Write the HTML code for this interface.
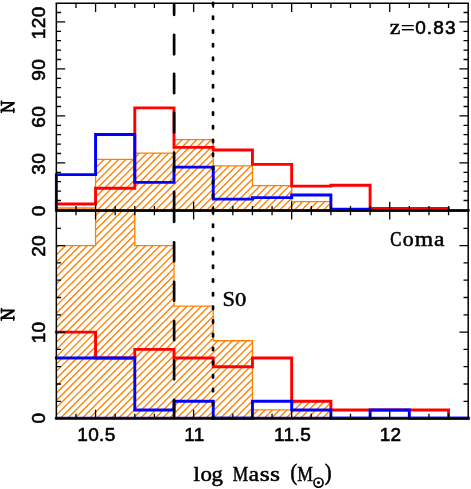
<!DOCTYPE html>
<html><head><meta charset="utf-8"><title>chart</title>
<style>
html,body{margin:0;padding:0;background:#fff;}
body{width:471px;height:489px;overflow:hidden;font-family:"Liberation Sans",sans-serif;}
svg{display:block;will-change:transform;}
</style></head><body>
<svg width="471" height="489" viewBox="0 0 471 489">
<defs>
<clipPath id="ct"><path d="M56.35,209.90 L56.35,208.00 L95.57,208.00 L95.57,159.30 L134.79,159.30 L134.79,153.10 L174.01,153.10 L174.01,139.60 L213.23,139.60 L213.23,165.90 L252.45,165.90 L252.45,185.70 L291.67,185.70 L291.67,201.60 L330.89,201.60 L330.89,209.90 Z"/></clipPath>
<clipPath id="cb"><path d="M56.35,418.30 L56.35,245.60 L95.57,245.60 L95.57,209.90 L134.79,209.90 L134.79,245.60 L174.01,245.60 L174.01,306.15 L213.23,306.15 L213.23,340.75 L252.45,340.75 L252.45,409.95 L291.67,409.95 L291.67,401.30 L330.89,401.30 L330.89,418.30 Z"/></clipPath>
</defs>
<rect x="0" y="0" width="471" height="489" fill="#fff"/>
<g clip-path="url(#ct)"><path d="M54.35,121.55L332.89,-156.99M54.35,128.85L332.89,-149.69M54.35,136.15L332.89,-142.39M54.35,143.45L332.89,-135.09M54.35,150.75L332.89,-127.79M54.35,158.05L332.89,-120.49M54.35,165.35L332.89,-113.19M54.35,172.65L332.89,-105.89M54.35,179.95L332.89,-98.59M54.35,187.25L332.89,-91.29M54.35,194.55L332.89,-83.99M54.35,201.85L332.89,-76.69M54.35,209.15L332.89,-69.39M54.35,216.45L332.89,-62.09M54.35,223.75L332.89,-54.79M54.35,231.05L332.89,-47.49M54.35,238.35L332.89,-40.19M54.35,245.65L332.89,-32.89M54.35,252.95L332.89,-25.59M54.35,260.25L332.89,-18.29M54.35,267.55L332.89,-10.99M54.35,274.85L332.89,-3.69M54.35,282.15L332.89,3.61M54.35,289.45L332.89,10.91M54.35,296.75L332.89,18.21M54.35,304.05L332.89,25.51M54.35,311.35L332.89,32.81M54.35,318.65L332.89,40.11M54.35,325.95L332.89,47.41M54.35,333.25L332.89,54.71M54.35,340.55L332.89,62.01M54.35,347.85L332.89,69.31M54.35,355.15L332.89,76.61M54.35,362.45L332.89,83.91M54.35,369.75L332.89,91.21M54.35,377.05L332.89,98.51M54.35,384.35L332.89,105.81M54.35,391.65L332.89,113.11M54.35,398.95L332.89,120.41M54.35,406.25L332.89,127.71M54.35,413.55L332.89,135.01M54.35,420.85L332.89,142.31M54.35,428.15L332.89,149.61M54.35,435.45L332.89,156.91M54.35,442.75L332.89,164.21M54.35,450.05L332.89,171.51M54.35,457.35L332.89,178.81M54.35,464.65L332.89,186.11M54.35,471.95L332.89,193.41M54.35,479.25L332.89,200.71M54.35,486.55L332.89,208.01M54.35,493.85L332.89,215.31" stroke="#ff8000" stroke-width="1.35" fill="none"/></g>
<g clip-path="url(#cb)"><path d="M54.35,198.64L332.89,-79.90M54.35,205.92L332.89,-72.62M54.35,213.19L332.89,-65.35M54.35,220.47L332.89,-58.07M54.35,227.75L332.89,-50.79M54.35,235.03L332.89,-43.51M54.35,242.31L332.89,-36.23M54.35,249.58L332.89,-28.96M54.35,256.86L332.89,-21.68M54.35,264.14L332.89,-14.40M54.35,271.42L332.89,-7.12M54.35,278.70L332.89,0.16M54.35,285.97L332.89,7.43M54.35,293.25L332.89,14.71M54.35,300.53L332.89,21.99M54.35,307.81L332.89,29.27M54.35,315.09L332.89,36.55M54.35,322.36L332.89,43.82M54.35,329.64L332.89,51.10M54.35,336.92L332.89,58.38M54.35,344.20L332.89,65.66M54.35,351.48L332.89,72.94M54.35,358.75L332.89,80.21M54.35,366.03L332.89,87.49M54.35,373.31L332.89,94.77M54.35,380.59L332.89,102.05M54.35,387.87L332.89,109.33M54.35,395.14L332.89,116.60M54.35,402.42L332.89,123.88M54.35,409.70L332.89,131.16M54.35,416.98L332.89,138.44M54.35,424.26L332.89,145.72M54.35,431.53L332.89,152.99M54.35,438.81L332.89,160.27M54.35,446.09L332.89,167.55M54.35,453.37L332.89,174.83M54.35,460.65L332.89,182.11M54.35,467.92L332.89,189.38M54.35,475.20L332.89,196.66M54.35,482.48L332.89,203.94M54.35,489.76L332.89,211.22M54.35,497.04L332.89,218.50M54.35,504.31L332.89,225.77M54.35,511.59L332.89,233.05M54.35,518.87L332.89,240.33M54.35,526.15L332.89,247.61M54.35,533.43L332.89,254.89M54.35,540.70L332.89,262.16M54.35,547.98L332.89,269.44M54.35,555.26L332.89,276.72M54.35,562.54L332.89,284.00M54.35,569.82L332.89,291.28M54.35,577.09L332.89,298.55M54.35,584.37L332.89,305.83M54.35,591.65L332.89,313.11M54.35,598.93L332.89,320.39M54.35,606.21L332.89,327.67M54.35,613.48L332.89,334.94M54.35,620.76L332.89,342.22M54.35,628.04L332.89,349.50M54.35,635.32L332.89,356.78M54.35,642.60L332.89,364.06M54.35,649.87L332.89,371.33M54.35,657.15L332.89,378.61M54.35,664.43L332.89,385.89M54.35,671.71L332.89,393.17M54.35,678.99L332.89,400.45M54.35,686.26L332.89,407.72M54.35,693.54L332.89,415.00M54.35,700.82L332.89,422.28M54.35,708.10L332.89,429.56" stroke="#ff8000" stroke-width="1.35" fill="none"/></g>
<path d="M56.35,208.00 L95.57,208.00 L95.57,159.30 L134.79,159.30 L134.79,153.10 L174.01,153.10 L174.01,139.60 L213.23,139.60 L213.23,165.90 L252.45,165.90 L252.45,185.70 L291.67,185.70 L291.67,201.60 L330.89,201.60 L330.89,209.90" stroke="#ff8000" stroke-width="1.3" fill="none"/>
<path d="M56.35,245.60 L95.57,245.60 L95.57,209.90 M134.79,209.90 L134.79,245.60 L174.01,245.60 L174.01,306.15 L213.23,306.15 L213.23,340.75 L252.45,340.75 L252.45,409.95 L291.67,409.95 L291.67,401.30 L330.89,401.30 L330.89,418.30" stroke="#ff8000" stroke-width="1.3" fill="none"/>
<path d="M56.35,204.00 L95.57,204.00 L95.57,188.20 L134.79,188.20 L134.79,107.90 L174.01,107.90 L174.01,147.40 L213.23,147.40 L213.23,150.00 L252.45,150.00 L252.45,164.40 L291.67,164.40 L291.67,186.10 L330.89,186.10 L330.89,185.20 L370.11,185.20 L370.11,208.40 L409.33,208.40 L409.33,208.40 L448.55,208.40 L448.55,210.40" stroke="#ff0000" stroke-width="2.9" fill="none" stroke-linecap="square" stroke-linejoin="miter"/>
<path d="M468.20,210.40 L56.35,210.40 L56.35,174.60 L95.57,174.60 L95.57,134.50 L134.79,134.50 L134.79,182.40 L174.01,182.40 L174.01,167.10 L213.23,167.10 L213.23,199.10 L252.45,199.10 L252.45,197.60 L291.67,197.60 L291.67,195.00 L330.89,195.00 L330.89,209.10 L370.11,209.10 L370.11,210.40 L468.20,210.40" stroke="#0000ff" stroke-width="2.9" fill="none" stroke-linecap="square" stroke-linejoin="miter"/>
<path d="M56.35,332.10 L95.57,332.10 L95.57,358.05 L134.79,358.05 L134.79,349.40 L174.01,349.40 L174.01,358.05 L213.23,358.05 L213.23,366.70 L252.45,366.70 L252.45,358.05 L291.67,358.05 L291.67,401.30 L330.89,401.30 L330.89,409.95 L370.11,409.95 L370.11,409.95 L409.33,409.95 L409.33,409.95 L448.55,409.95 L448.55,418.30" stroke="#ff0000" stroke-width="2.9" fill="none" stroke-linecap="square" stroke-linejoin="miter"/>
<path d="M56.35,358.05 L95.57,358.05 L95.57,358.05 L134.79,358.05 L134.79,409.95 L174.01,409.95 L174.01,401.30 L213.23,401.30 L213.23,418.30 L252.45,418.30 L252.45,401.30 L291.67,401.30 L291.67,409.95 L330.89,409.95 L330.89,418.30 L370.11,418.30 L370.11,409.95 L409.33,409.95 L409.33,418.30 L448.55,418.30 L448.55,418.30 L468.16,418.30" stroke="#0000ff" stroke-width="2.9" fill="none" stroke-linecap="square" stroke-linejoin="miter"/>
<path d="M56.35,418.3H468.20" stroke="#0000ff" stroke-width="2.9" fill="none" stroke-linecap="square" stroke-linejoin="miter"/>
<g stroke="#000" fill="none" stroke-linecap="butt">
<path d="M56.35,419.30V3.30" stroke-width="1.5"/>
<path d="M468.20,419.30V3.30" stroke-width="1.5"/>
<path d="M55.60,3.30H468.95" stroke-width="1.4"/>
<path d="M56.35,210.85H468.20" stroke-width="1.7"/>
<path d="M56.35,418.50H468.20" stroke-width="1.6"/>
</g>
<path d="M75.96,3.3v4.7M75.96,205.95v9.4M75.96,418.5v-4.7M95.57,3.3v8.8M95.57,201.85v17.6M95.57,418.5v-8.8M115.18,3.3v4.7M115.18,205.95v9.4M115.18,418.5v-4.7M134.79,3.3v4.7M134.79,205.95v9.4M134.79,418.5v-4.7M154.40,3.3v4.7M154.40,205.95v9.4M154.40,418.5v-4.7M174.01,3.3v4.7M174.01,205.95v9.4M174.01,418.5v-4.7M193.62,3.3v8.8M193.62,201.85v17.6M193.62,418.5v-8.8M213.23,3.3v4.7M213.23,205.95v9.4M213.23,418.5v-4.7M232.84,3.3v4.7M232.84,205.95v9.4M232.84,418.5v-4.7M252.45,3.3v4.7M252.45,205.95v9.4M252.45,418.5v-4.7M272.06,3.3v4.7M272.06,205.95v9.4M272.06,418.5v-4.7M291.67,3.3v8.8M291.67,201.85v17.6M291.67,418.5v-8.8M311.28,3.3v4.7M311.28,205.95v9.4M311.28,418.5v-4.7M330.89,3.3v4.7M330.89,205.95v9.4M330.89,418.5v-4.7M350.50,3.3v4.7M350.50,205.95v9.4M350.50,418.5v-4.7M370.11,3.3v4.7M370.11,205.95v9.4M370.11,418.5v-4.7M389.72,3.3v8.8M389.72,201.85v17.6M389.72,418.5v-8.8M409.33,3.3v4.7M409.33,205.95v9.4M409.33,418.5v-4.7M428.94,3.3v4.7M428.94,205.95v9.4M428.94,418.5v-4.7M448.55,3.3v4.7M448.55,205.95v9.4M448.55,418.5v-4.7M56.35,200.50h4.7M468.20,200.50h-4.7M56.35,191.10h4.7M468.20,191.10h-4.7M56.35,181.70h4.7M468.20,181.70h-4.7M56.35,172.30h4.7M468.20,172.30h-4.7M56.35,162.90h8.8M468.20,162.90h-8.8M56.35,153.50h4.7M468.20,153.50h-4.7M56.35,144.10h4.7M468.20,144.10h-4.7M56.35,134.70h4.7M468.20,134.70h-4.7M56.35,125.30h4.7M468.20,125.30h-4.7M56.35,115.90h8.8M468.20,115.90h-8.8M56.35,106.50h4.7M468.20,106.50h-4.7M56.35,97.10h4.7M468.20,97.10h-4.7M56.35,87.70h4.7M468.20,87.70h-4.7M56.35,78.30h4.7M468.20,78.30h-4.7M56.35,68.90h8.8M468.20,68.90h-8.8M56.35,59.50h4.7M468.20,59.50h-4.7M56.35,50.10h4.7M468.20,50.10h-4.7M56.35,40.70h4.7M468.20,40.70h-4.7M56.35,31.30h4.7M468.20,31.30h-4.7M56.35,21.90h8.8M468.20,21.90h-8.8M56.35,12.50h4.7M468.20,12.50h-4.7M56.35,401.30h4.7M468.20,401.30h-4.7M56.35,384.00h4.7M468.20,384.00h-4.7M56.35,366.70h4.7M468.20,366.70h-4.7M56.35,349.40h4.7M468.20,349.40h-4.7M56.35,332.10h8.8M468.20,332.10h-8.8M56.35,314.80h4.7M468.20,314.80h-4.7M56.35,297.50h4.7M468.20,297.50h-4.7M56.35,280.20h4.7M468.20,280.20h-4.7M56.35,262.90h4.7M468.20,262.90h-4.7M56.35,245.60h8.8M468.20,245.60h-8.8M56.35,228.30h4.7M468.20,228.30h-4.7" stroke="#000" stroke-width="1.3" fill="none"/>
<path d="M174.11,4.65V14.85M174.11,34.75V54.35M174.11,73.85V93.15M174.11,112.85V132.45M174.11,152.65V171.35M174.11,191.85V210.65M174.11,202.95V221.85M174.11,242.35V261.25M174.11,281.75V300.75M174.11,321.05V340.05M174.11,360.35V379.35M174.11,399.75V417.95" stroke="#000" stroke-width="2.7" stroke-linecap="round" fill="none"/>
<path d="M213.03,2.91v2.4M213.03,16.60v2.4M213.03,30.29v2.4M213.03,43.98v2.4M213.03,57.67v2.4M213.03,71.36v2.4M213.03,85.05v2.4M213.03,98.74v2.4M213.03,112.43v2.4M213.03,126.12v2.4M213.03,139.81v2.4M213.03,153.50v2.4M213.03,167.19v2.4M213.03,180.88v2.4M213.03,194.57v2.4M213.03,208.26v2.4M213.03,210.80v2.4M213.03,224.50v2.4M213.03,238.20v2.4M213.03,251.90v2.4M213.03,265.60v2.4M213.03,279.30v2.4M213.03,293.00v2.4M213.03,306.70v2.4M213.03,320.40v2.4M213.03,334.10v2.4M213.03,347.80v2.4M213.03,361.50v2.4M213.03,375.20v2.4M213.03,388.90v2.4M213.03,402.60v2.4M213.03,416.30v2.4" stroke="#000" stroke-width="2.7" stroke-linecap="round" fill="none"/>
<text x="96.47" y="441.20" text-anchor="middle" style="font-family:'Liberation Sans',sans-serif;font-size:19px;letter-spacing:0.4px" fill="#000" stroke="#000" stroke-width="0.6" >10.5</text>
<text x="194.52" y="441.20" text-anchor="middle" style="font-family:'Liberation Sans',sans-serif;font-size:19px;letter-spacing:0.4px" fill="#000" stroke="#000" stroke-width="0.6" >11</text>
<text x="292.57" y="441.20" text-anchor="middle" style="font-family:'Liberation Sans',sans-serif;font-size:19px;letter-spacing:0.4px" fill="#000" stroke="#000" stroke-width="0.6" >11.5</text>
<text x="390.62" y="441.20" text-anchor="middle" style="font-family:'Liberation Sans',sans-serif;font-size:19px;letter-spacing:0.4px" fill="#000" stroke="#000" stroke-width="0.6" >12</text>
<text transform="translate(44.90,22.70) rotate(-90)" text-anchor="middle" style="font-family:'Liberation Sans',sans-serif;font-size:19px;letter-spacing:0.4px" fill="#000" stroke="#000" stroke-width="0.6">120</text>
<text transform="translate(44.90,69.70) rotate(-90)" text-anchor="middle" style="font-family:'Liberation Sans',sans-serif;font-size:19px;letter-spacing:0.4px" fill="#000" stroke="#000" stroke-width="0.6">90</text>
<text transform="translate(44.90,116.70) rotate(-90)" text-anchor="middle" style="font-family:'Liberation Sans',sans-serif;font-size:19px;letter-spacing:0.4px" fill="#000" stroke="#000" stroke-width="0.6">60</text>
<text transform="translate(44.90,163.70) rotate(-90)" text-anchor="middle" style="font-family:'Liberation Sans',sans-serif;font-size:19px;letter-spacing:0.4px" fill="#000" stroke="#000" stroke-width="0.6">30</text>
<text transform="translate(44.90,210.70) rotate(-90)" text-anchor="middle" style="font-family:'Liberation Sans',sans-serif;font-size:19px;letter-spacing:0.4px" fill="#000" stroke="#000" stroke-width="0.6">0</text>
<text transform="translate(44.90,245.90) rotate(-90)" text-anchor="middle" style="font-family:'Liberation Sans',sans-serif;font-size:19px;letter-spacing:0.4px" fill="#000" stroke="#000" stroke-width="0.6">20</text>
<text transform="translate(44.90,332.40) rotate(-90)" text-anchor="middle" style="font-family:'Liberation Sans',sans-serif;font-size:19px;letter-spacing:0.4px" fill="#000" stroke="#000" stroke-width="0.6">10</text>
<text transform="translate(44.90,418.10) rotate(-90)" text-anchor="middle" style="font-family:'Liberation Sans',sans-serif;font-size:19px;letter-spacing:0.4px" fill="#000" stroke="#000" stroke-width="0.6">0</text>
<g transform="translate(0,0)" stroke="#000" fill="none" stroke-linecap="round"><path d="M1.6,102.9H14.1M1.5,110.6H13.8" stroke-width="1.8"/><path d="M13.7,103.2L2.0,110.3" stroke-width="2.4" stroke-linecap="butt"/><path d="M1.45,100.9V105.2M13.8,108.6V112.6M1.35,109.6V112.6" stroke-width="1.5"/></g>
<g transform="translate(0,207.6)" stroke="#000" fill="none" stroke-linecap="round"><path d="M1.6,102.9H14.1M1.5,110.6H13.8" stroke-width="1.8"/><path d="M13.7,103.2L2.0,110.3" stroke-width="2.4" stroke-linecap="butt"/><path d="M1.45,100.9V105.2M13.8,108.6V112.6M1.35,109.6V112.6" stroke-width="1.5"/></g>
<text transform="translate(389.70,33.70) scale(1.128,1)" style="font-family:'Liberation Serif',serif;font-size:21.2px" fill="#000" stroke="#000" stroke-width="0.5">z</text>
<text transform="translate(400.87,35.40) scale(1.182,1)" style="font-family:'Liberation Serif',serif;font-size:21.2px" fill="#000" stroke="#000" stroke-width="0.25">=</text>
<text x="415.20" y="33.60" text-anchor="start" style="font-family:'Liberation Sans',sans-serif;font-size:19px;letter-spacing:0.4px" fill="#000" stroke="#000" stroke-width="0.6" textLength="40.7" lengthAdjust="spacing">0.83</text>
<text transform="translate(390.37,246.20) scale(0.796,1)" style="font-family:'Liberation Serif',serif;font-size:20.9px" fill="#000" stroke="#000" stroke-width="0.7">C</text>
<text transform="translate(402.82,246.20) scale(1.049,1)" style="font-family:'Liberation Serif',serif;font-size:20.9px" fill="#000" stroke="#000" stroke-width="0.5">o</text>
<text transform="translate(414.65,246.20) scale(1.130,1)" style="font-family:'Liberation Serif',serif;font-size:20.9px" fill="#000" stroke="#000" stroke-width="0.5">m</text>
<text transform="translate(434.03,246.20) scale(1.127,1)" style="font-family:'Liberation Serif',serif;font-size:20.9px" fill="#000" stroke="#000" stroke-width="0.5">a</text>
<text transform="translate(222.61,306.40) scale(1.087,1)" style="font-family:'Liberation Serif',serif;font-size:20.8px" fill="#000" stroke="#000" stroke-width="0.45">S</text>
<text transform="translate(234.97,306.10) scale(1.173,1)" style="font-family:'Liberation Serif',serif;font-size:19.2px" fill="#000" stroke="#000" stroke-width="0.45">0</text>
<text transform="translate(193.59,480.70) scale(1.111,1)" style="font-family:'Liberation Serif',serif;font-size:20.8px" fill="#000" stroke="#000" stroke-width="0.5">l</text>
<text transform="translate(200.38,480.70) scale(1.100,1)" style="font-family:'Liberation Serif',serif;font-size:20.8px" fill="#000" stroke="#000" stroke-width="0.5">o</text>
<text transform="translate(211.52,480.70) scale(1.092,1)" style="font-family:'Liberation Serif',serif;font-size:20.8px" fill="#000" stroke="#000" stroke-width="0.5">g</text>
<text transform="translate(232.85,480.70) scale(0.833,1)" style="font-family:'Liberation Serif',serif;font-size:20.8px" fill="#000" stroke="#000" stroke-width="0.5">M</text>
<text transform="translate(248.64,480.70) scale(1.108,1)" style="font-family:'Liberation Serif',serif;font-size:20.8px" fill="#000" stroke="#000" stroke-width="0.5">a</text>
<text transform="translate(259.70,480.70) scale(1.233,1)" style="font-family:'Liberation Serif',serif;font-size:20.8px" fill="#000" stroke="#000" stroke-width="0.5">s</text>
<text transform="translate(269.90,480.70) scale(1.233,1)" style="font-family:'Liberation Serif',serif;font-size:20.8px" fill="#000" stroke="#000" stroke-width="0.5">s</text>
<text transform="translate(290.59,479.80) scale(0.869,1)" style="font-family:'Liberation Serif',serif;font-size:22.4px" fill="#000" stroke="#000" stroke-width="0.7">(</text>
<text transform="translate(297.24,480.70) scale(0.850,1)" style="font-family:'Liberation Serif',serif;font-size:20.8px" fill="#000" stroke="#000" stroke-width="0.5">M</text>
<text transform="translate(325.03,479.80) scale(0.869,1)" style="font-family:'Liberation Serif',serif;font-size:22.4px" fill="#000" stroke="#000" stroke-width="0.7">)</text>
<circle cx="318.5" cy="482.6" r="4.6" fill="none" stroke="#000" stroke-width="1.6"/>
<circle cx="318.5" cy="482.6" r="1.5" fill="#000"/>
</svg>
</body></html>
